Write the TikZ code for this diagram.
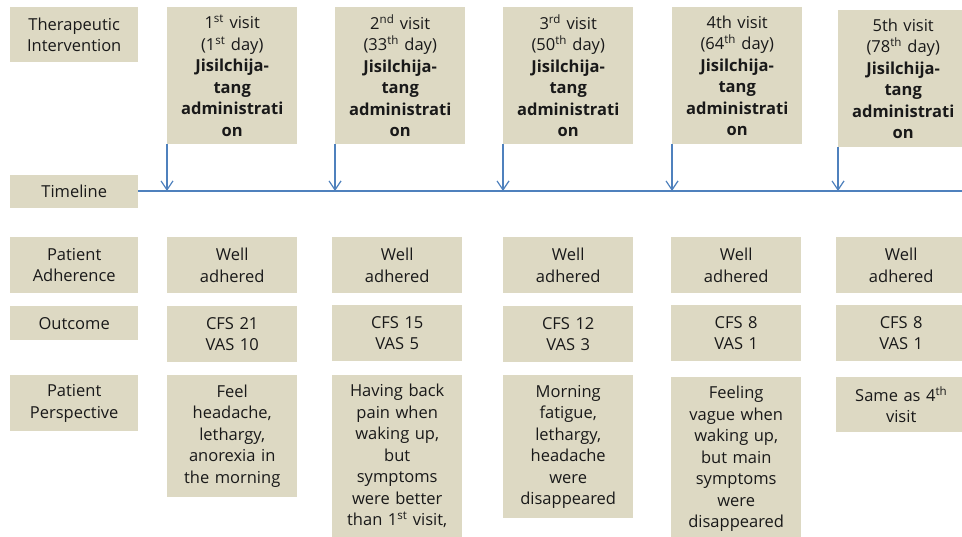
\documentclass[tikz,border=0pt]{standalone}
\usepackage{fontspec}
\setmainfont{Open Sans}
\usepackage{tikz}
\usetikzlibrary{arrows.meta}
\definecolor{khaki}{RGB}{221, 217, 195}
\definecolor{lineblue}{RGB}{79, 129, 189}
\newcommand{\herbtext}{\textbf{Jisilchija-\\tang\\administrati\\on}}

\begin{document}
\begin{tikzpicture}[x=1pt, y=-1pt,
  every node/.style={font=\fontsize{16.5}{21.5}\selectfont, text=black!90},
  lbl/.style={fill=khaki, anchor=north west, align=center, minimum width=128pt, inner sep=0pt},
  cell/.style={fill=khaki, anchor=north west, align=center, text width=122pt, inner xsep=4pt, inner ysep=0pt},
  conn/.style={lineblue, line width=1.2pt, -{Straight Barb[length=9pt, width=12pt]}}]
  \useasboundingbox (0, 0) rectangle (962, 537);
  \clip (0, 0) rectangle (962, 537);

  % row labels
  \node[lbl, minimum height=55pt] (ti) at (10, 7) {Therapeutic\\Intervention};
  \node[lbl, minimum height=33pt] (tl) at (10, 175) {Timeline};
  \node[lbl, minimum height=56pt] (pa) at (10, 237) {Patient\\Adherence};
  \node[lbl, minimum height=34pt] (oc) at (10, 306) {Outcome};
  \node[lbl, minimum height=56pt] (pp) at (10, 375) {Patient\\Perspective};

  % therapeutic intervention
  \node[cell, minimum height=137pt] (iv1) at (167, 7) {1\textsuperscript{st} visit\\(1\textsuperscript{st} day)\\\herbtext};
  \node[cell, minimum height=137pt] (iv2) at (335, 7) {2\textsuperscript{nd} visit\\(33\textsuperscript{th} day)\\\herbtext};
  \node[cell, minimum height=137pt] (iv3) at (503, 7) {3\textsuperscript{rd} visit\\(50\textsuperscript{th} day)\\\herbtext};
  \node[cell, minimum height=137pt] (iv4) at (672, 7) {4th visit\\(64\textsuperscript{th} day)\\\herbtext};
  \node[cell, minimum height=137pt] (iv5) at (838, 10) {5th visit\\(78\textsuperscript{th} day)\\\herbtext};

  % timeline
  \coordinate (tlend) at (962, 191);
  \draw[lineblue, line width=2pt] (tl.east |- tlend) -- (tlend);
  \foreach \v in {1, 2, 3, 4, 5} {
    \draw[conn] (iv\v.south west) -- (iv\v.south west |- tlend);
  }

  % patient adherence
  \foreach \v/\x in {1/167, 2/332, 3/503, 4/671, 5/836} {
    \node[cell, minimum height=56pt] (ad\v) at (\x, 237) {Well\\adhered};
  }

  % outcome
  \node[cell, minimum height=56pt] (oc1) at (167, 306) {CFS 21\\VAS 10};
  \node[cell, minimum height=56pt] (oc2) at (332, 305) {CFS 15\\VAS 5};
  \node[cell, minimum height=56pt] (oc3) at (503, 306) {CFS 12\\VAS 3};
  \node[cell, minimum height=56pt] (oc4) at (671, 305) {CFS 8\\VAS 1};
  \node[cell, minimum height=56pt] (oc5) at (836, 305) {CFS 8\\VAS 1};

  % patient perspective
  \node[cell, minimum height=122pt] (pp1) at (167, 375) {Feel\\headache,\\lethargy,\\anorexia in\\the morning};
  \node[cell, inner ysep=9pt] (pp2) at (332, 375)
    {Having back\\pain when\\waking up,\\but\\symptoms\\were better\\than 1\textsuperscript{st} visit,};
  \node[cell, minimum height=143pt] (pp3) at (503, 375) {Morning\\fatigue,\\lethargy,\\headache\\were\\disappeared};
  \node[cell, inner ysep=9pt] (pp4) at (671, 377) {Feeling\\vague when\\waking up,\\but main\\symptoms\\were\\disappeared};
  \node[cell, minimum height=55pt] (pp5) at (836, 377) {Same as 4\textsuperscript{th}\\visit};
\end{tikzpicture}
\end{document}
